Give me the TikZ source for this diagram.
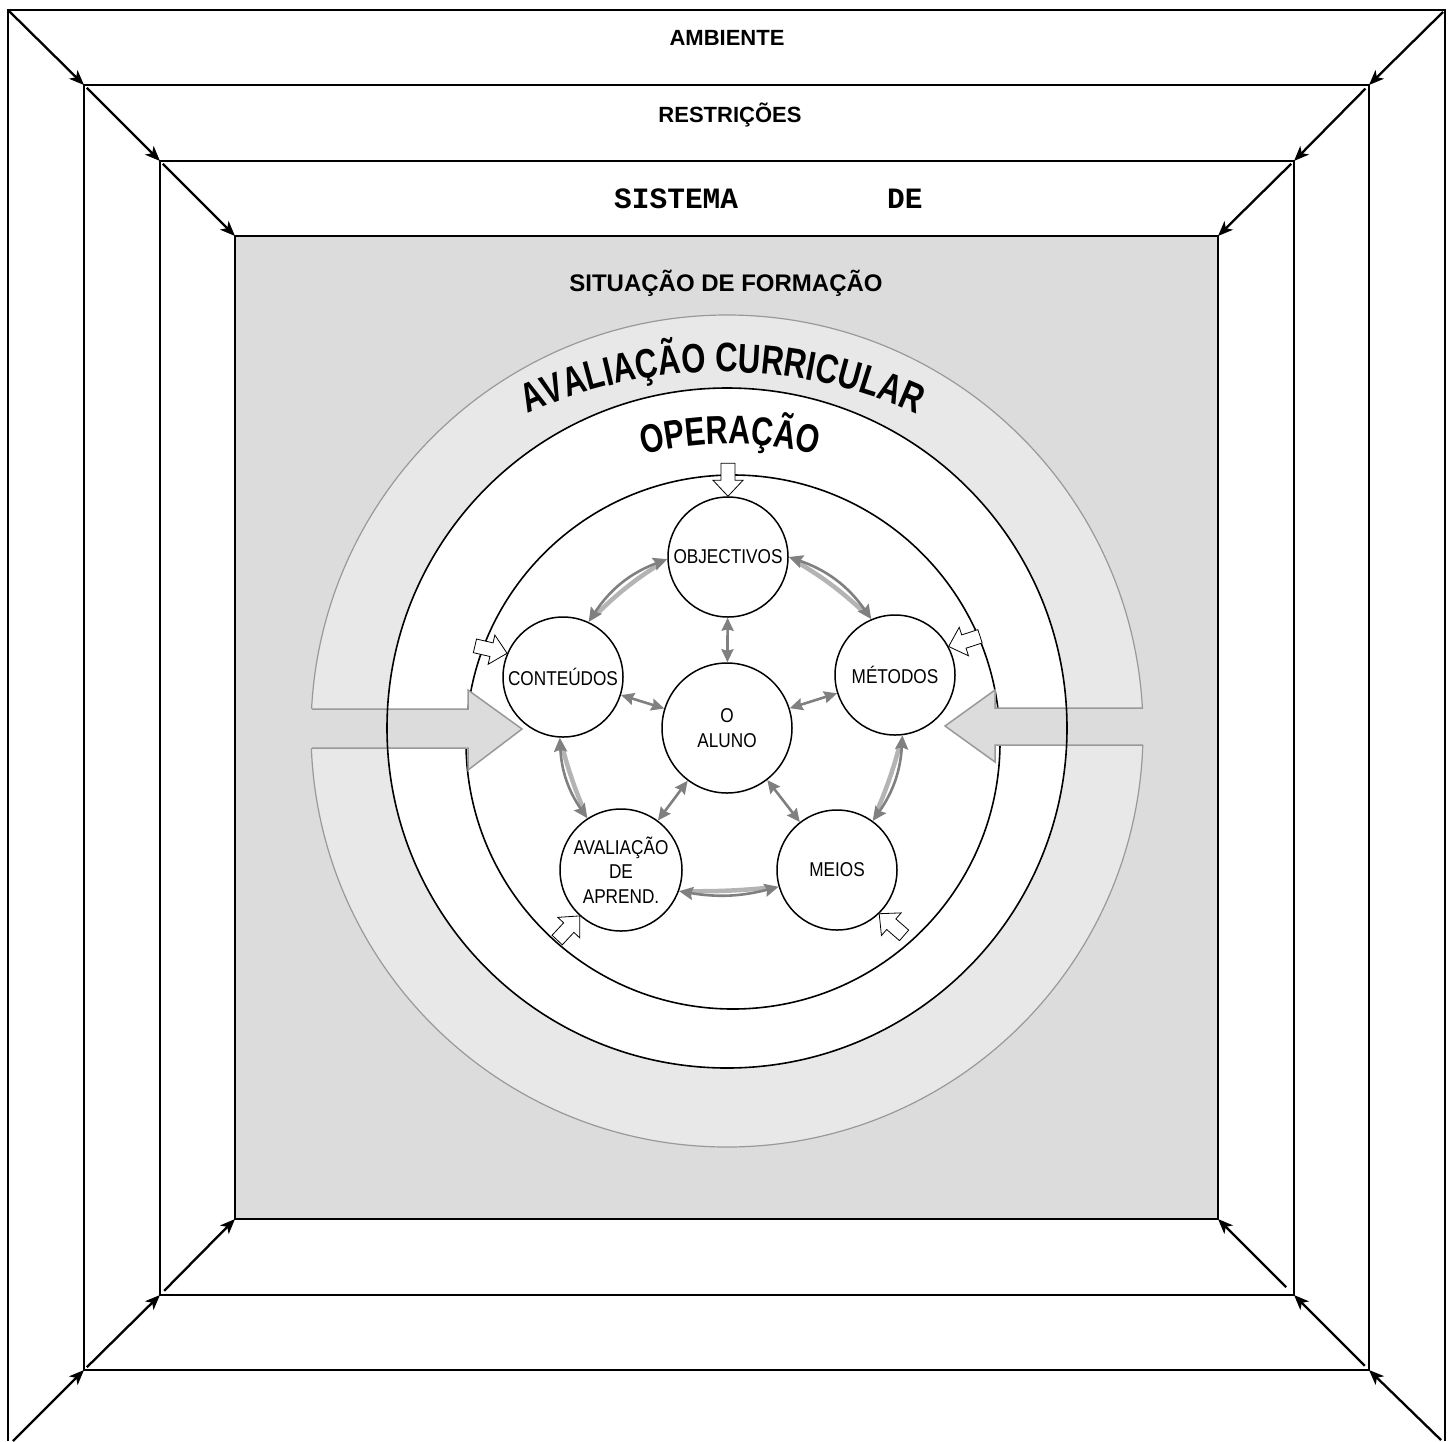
\documentclass[tikz,border=0pt]{standalone}
\usepackage{fontspec}
\setmainfont{Liberation Sans}
\newfontfamily\curvefam[FakeStretch=0.76]{Liberation Sans}
\newfontfamily\nodefam[FakeStretch=0.86]{Liberation Sans}
\newfontfamily\monofam{Liberation Mono}
\usetikzlibrary{arrows.meta,decorations.text}
\definecolor{sqgray}{HTML}{DCDCDC}
\definecolor{ringgray}{HTML}{E8E8E8}
\definecolor{edgegray}{HTML}{999999}
\definecolor{arrowgray}{HTML}{808080}
\definecolor{bandgray}{HTML}{B4B4B4}
\newcommand\curvefont{\curvefam\bfseries\fontsize{41}{41}\selectfont}
\newcommand\opfont{\curvefam\bfseries\fontsize{40}{40}\selectfont}
\newcommand\blockarrow[3]{%
  \draw[barrow, shift={(#1.#2)}, rotate=#3] (0,0) -- (16,15) -- (16,7) -- (33,7) -- (33,-7) -- (16,-7) -- (16,-15) -- cycle;}
\begin{document}
\begin{tikzpicture}[x=1pt,y=1pt,
  frame/.style={line width=2pt},
  cornerarrow/.style={line width=2.3pt,-{Stealth[length=15pt,width=12pt,inset=4pt]}},
  boxtitle/.style={font=\bfseries\fontsize{22}{26}\selectfont},
  cnode/.style={circle,draw,line width=1.5pt,fill=white,minimum size=120pt,inner sep=0pt,align=center,font=\nodefam\fontsize{20}{24.5}\selectfont},
  garrow/.style={draw=arrowgray,line width=2.6pt,{Stealth[length=14pt,width=13pt,inset=2pt]}-{Stealth[length=14pt,width=13pt,inset=2pt]}},
  sarrow/.style={draw=arrowgray,line width=2.6pt,{Stealth[length=13pt,width=12pt,inset=1.5pt]}-{Stealth[length=13pt,width=12pt,inset=1.5pt]}},
  lightband/.style={draw=bandgray,line width=4.5pt,shorten <=12pt,shorten >=12pt},
  barrow/.style={draw=black,line width=0.8pt,fill=white,line join=miter},
  bigarrowfill/.style={fill=sqgray},
  bigarrowline/.style={draw=edgegray,line width=1.5pt}]
\useasboundingbox (0,0) rectangle (1456,-1441);
% frames
\draw[frame] (8,-1441) -- (8,-10) -- (1445,-10) -- (1445,-1441);
\draw[frame] (84,-85) rectangle (1369,-1370);
\draw[frame] (160,-161) rectangle (1294,-1295);
\draw[frame,fill=sqgray] (235,-236) rectangle (1218,-1219);
% corner coordinates
\coordinate (o1) at (8,-10);
\coordinate (o2) at (1443,-12);
\coordinate (o3) at (13,-1441);
\coordinate (o4) at (1441,-1440);
\coordinate (a1) at (84,-85);
\coordinate (a2) at (1369,-85);
\coordinate (a3) at (84,-1370);
\coordinate (a4) at (1369,-1370);
\coordinate (b1) at (160,-161);
\coordinate (b2) at (1294,-161);
\coordinate (b3) at (160,-1295);
\coordinate (b4) at (1294,-1295);
\coordinate (c1) at (235,-236);
\coordinate (c2) at (1218,-236);
\coordinate (c3) at (235,-1219);
\coordinate (c4) at (1218,-1219);
% corner arrows
\draw[cornerarrow] (o1) -- (a1);
\draw[cornerarrow,shorten <=4pt] (a1) -- (b1);
\draw[cornerarrow,shorten <=4pt] (b1) -- (c1);
\draw[cornerarrow] (o2) -- (a2);
\draw[cornerarrow,shorten <=5pt] (a2) -- (b2);
\draw[cornerarrow,shorten <=4pt] (b2) -- (c2);
\draw[cornerarrow] (o3) -- (a3);
\draw[cornerarrow,shorten <=4pt] (a3) -- (b3);
\draw[cornerarrow,shorten <=6pt] (b3) -- (c3);
\draw[cornerarrow] (o4) -- (a4);
\draw[cornerarrow,shorten <=6pt] (a4) -- (b4);
\draw[cornerarrow,shorten <=11pt] (b4) -- (c4);
% titles
\node[boxtitle] (amb) at (727,-38) {AMBIENTE};
\node[boxtitle] (res) at (730,-115) {RESTRIÇÕES};
\node[anchor=base west,font=\monofam\bfseries\fontsize{29.5}{31}\selectfont,inner sep=0pt] (sis) at (614,-208) {SISTEMA};
\node[anchor=base west,font=\monofam\bfseries\fontsize{29.5}{31}\selectfont,inner sep=0pt] (de) at (887,-208) {DE};
\node[font=\bfseries\fontsize{24}{28}\selectfont] (sit) at (726,-283) {SITUAÇÃO DE FORMAÇÃO};
% ring
\fill[ringgray] (727,-731) circle[radius=416];
\draw[edgegray,line width=1.2pt] (727,-731) circle[radius=416];
\fill[white] (727,-728) circle[radius=340];
\draw[line width=1.6pt] (733,-742) circle[radius=267];
% big arrows
\fill[bigarrowfill] (305,-709) -- (468,-709) -- (468,-690) -- (522,-729) -- (468,-770) -- (468,-748) -- (305,-748) -- cycle;
\draw[bigarrowline] (312,-709) -- (468,-709) -- (468,-690) -- (522,-729) -- (468,-770) -- (468,-748) -- (312,-748);
\fill[bigarrowfill] (1150,-708) -- (995,-708) -- (995,-690) -- (945,-726) -- (995,-762) -- (995,-745) -- (1150,-745) -- cycle;
\draw[bigarrowline] (1143,-708) -- (995,-708) -- (995,-690) -- (945,-726) -- (995,-762) -- (995,-745) -- (1143,-745);
\draw[line width=1.6pt] (727,-728) circle[radius=340];
% curved texts
\path[decorate,decoration={text along path,text align=center,text={|\curvefont|AVALIAÇÃO CURRICULAR}}]
  (722,-844) ++(135:472) arc[start angle=135,end angle=45,radius=472];
\path[decorate,decoration={text along path,text align=center,text={|\opfont|OPERAÇÃO}}]
  (730,-794) ++(125:350) arc[start angle=125,end angle=55,radius=350];
% nodes
\node[cnode] (obj) at (728,-557) {OBJECTIVOS};
\node[cnode,minimum size=130pt] (alu) at (727,-728) {O\\ALUNO};
\node[cnode] (con) at (563,-677) {CONTEÚDOS};
\node[cnode] (met) at (895,-675) {MÉTODOS};
\node[cnode,minimum size=122pt] (ava) at (621,-870) {AVALIAÇÃO\\DE\\APREND.};
\node[cnode] (mei) at (837,-870) {MEIOS};
% outer curved arrows
\draw[lightband] (obj.182) to[bend right=6] (con.65);
\draw[garrow] (obj.182) to[bend right=18] (con.65);
\draw[lightband] (obj.0) to[bend left=6] (met.113);
\draw[garrow] (obj.0) to[bend left=18] (met.113);
\draw[lightband] (met.277) to[bend left=4] (mei.54);
\draw[garrow] (met.277) to[bend left=16] (mei.54);
\draw[lightband] (con.267) to[bend right=4] (ava.123);
\draw[garrow] (con.267) to[bend right=16] (ava.123);
\draw[lightband] (ava.-20) to[bend right=3] (mei.196);
\draw[garrow] (ava.-20) to[bend right=12] (mei.196);
% straight arrows
\draw[sarrow] (obj) -- (alu);
\draw[sarrow] (con) -- (alu);
\draw[sarrow] (met) -- (alu);
\draw[sarrow] (alu) -- (ava);
\draw[sarrow] (alu) -- (mei);
% small block arrows
\blockarrow{obj}{90}{90}
\blockarrow{con}{157}{167}
\blockarrow{met}{28}{18}
\blockarrow{ava}{228}{227}
\blockarrow{mei}{-46}{-41}
\end{tikzpicture}
\end{document}
